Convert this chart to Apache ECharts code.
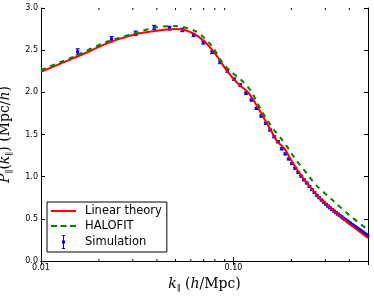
<!DOCTYPE html>
<html>
<head>
<meta charset="utf-8">
<script src="https://cdn.jsdelivr.net/npm/echarts@6/dist/echarts.min.js"></script>
<style>html,body{margin:0;padding:0;background:#fff}#c{width:374px;height:297px}</style>
</head>
<body>
<div id="c"></div>
<script>
// Linear theory curve
const kLin = [0.0100, 0.0120, 0.01465, 0.0180, 0.02198, 0.0270, 0.03258, 0.03901, 0.0450, 0.04946, 0.05578, 0.06288, 0.0709, 0.07993, 0.08487, 0.0931, 0.1049, 0.1182, 0.1254, 0.1332, 0.1443, 0.1561, 0.1690, 0.1837, 0.1991, 0.2198, 0.2476, 0.2790, 0.3258, 0.3990, 0.5000];
const pLin = [2.244, 2.32, 2.403, 2.49, 2.581, 2.65, 2.70, 2.727, 2.745, 2.750, 2.740, 2.690, 2.600, 2.466, 2.38, 2.245, 2.107, 2.007, 1.929, 1.829, 1.69, 1.553, 1.414, 1.336, 1.197, 1.045, 0.89, 0.75, 0.612, 0.445, 0.272];
// HALOFIT curve
const kHalo = [0.0100, 0.01465, 0.02198, 0.03144, 0.03901, 0.04946, 0.06288, 0.0709, 0.07783, 0.08637, 0.09535, 0.10935, 0.1182, 0.1254, 0.1320, 0.1388, 0.1470, 0.1550, 0.1631, 0.1767, 0.1951, 0.2113, 0.2286, 0.2476, 0.2683, 0.3269, 0.3990, 0.5000];
const pHalo = [2.265, 2.42, 2.60, 2.707, 2.77, 2.786, 2.73, 2.64, 2.54, 2.37, 2.26, 2.15, 2.07, 1.988, 1.889, 1.80, 1.70, 1.62, 1.55, 1.454, 1.316, 1.197, 1.10, 1.00, 0.90, 0.722, 0.545, 0.37];
// Simulation points
const kSim = [0.0155, 0.02325, 0.0310, 0.03875, 0.0465, 0.05425, 0.0620, 0.06975, 0.0775, 0.08525, 0.0930, 0.10075, 0.1085, 0.11625, 0.1240, 0.13175, 0.1395, 0.14725, 0.1550, 0.16275, 0.1705, 0.17825, 0.1860, 0.19375, 0.2015, 0.20925, 0.2170, 0.22475, 0.2325, 0.24025, 0.2480, 0.25575, 0.2635, 0.27125, 0.2790, 0.28675, 0.2945, 0.30225, 0.3100, 0.31775, 0.3255, 0.33325, 0.3410, 0.34875, 0.3565, 0.36425, 0.3720, 0.37975, 0.3875, 0.39525, 0.4030, 0.41075, 0.4185, 0.42625, 0.4340, 0.44175, 0.4495, 0.45725, 0.4650, 0.47275, 0.4805, 0.48825, 0.4960];
const pSim = [2.48, 2.63, 2.70, 2.77, 2.76, 2.74, 2.68, 2.59, 2.475, 2.356, 2.253, 2.156, 2.087, 1.99, 1.909, 1.81, 1.719, 1.632, 1.553, 1.473, 1.414, 1.33, 1.27, 1.21, 1.155, 1.10, 1.05, 1.005, 0.962, 0.925, 0.885, 0.847, 0.812, 0.779, 0.750, 0.722, 0.697, 0.673, 0.651, 0.630, 0.610, 0.591, 0.573, 0.556, 0.539, 0.523, 0.507, 0.492, 0.477, 0.463, 0.449, 0.435, 0.422, 0.409, 0.396, 0.384, 0.372, 0.360, 0.348, 0.336, 0.324, 0.312, 0.300];
const eSim = [0.03, 0.025, 0.02, 0.018, 0.016, 0.014, 0.012, 0.011, 0.010, 0.009, 0.009, 0.008, 0.008, 0.007, 0.007, 0.006, 0.006, 0.006, 0.005, 0.005, 0.005, 0.005, 0.005, 0.004, 0.004, 0.004, 0.004, 0.004, 0.004, 0.004, 0.003, 0.003, 0.003, 0.003, 0.003, 0.003, 0.003, 0.003, 0.003, 0.003, 0.003, 0.003, 0.003, 0.003, 0.003, 0.003, 0.003, 0.003, 0.003, 0.003, 0.003, 0.003, 0.003, 0.003, 0.003, 0.003, 0.003, 0.003, 0.003, 0.003, 0.003, 0.003, 0.003];
// Axis ticks
const xMinorTicks = [0.02, 0.03, 0.04, 0.05, 0.06, 0.07, 0.08, 0.09, 0.2, 0.3, 0.4];
const xMajorLabels = {'0.01': '0.01', '0.1': '0.10'};

const chart = echarts.init(document.getElementById('c'), null, {renderer: 'canvas'});
const BLUE = '#0000ff', RED = '#ff0000', GREEN = '#008000';
const serif = 'DejaVu Serif';
const rich = {
  a: {fontFamily: serif, fontStyle: 'italic', fontSize: 14, lineHeight: 18, color: '#000'},
  b: {fontFamily: serif, fontSize: 14, lineHeight: 18, color: '#000'},
  s: {fontFamily: serif, fontSize: 8.5, lineHeight: 9, verticalAlign: 'bottom', color: '#000'}
};
const tickStyle = {inside: true, length: 4, lineStyle: {color: '#000', width: 1}};
const lineStyle = {show: true, lineStyle: {color: '#000', width: 1}};

const option = {
  animation: false,
  backgroundColor: '#fff',
  grid: {left: 41, right: 6, top: 8, bottom: 36, containLabel: false, outerBoundsMode: 'none'},
  xAxis: [{
    type: 'log', logBase: 10, min: 0.01, max: 0.5, position: 'bottom',
    axisLine: lineStyle, axisTick: tickStyle, splitLine: {show: false},
    axisLabel: {margin: 3, fontFamily: 'DejaVu Sans', fontSize: 8, color: '#000',
      formatter: v => { const r = Math.abs(v - 0.01) < 1e-6 ? '0.01' : (Math.abs(v - 0.1) < 1e-6 ? '0.1' : null); return r ? xMajorLabels[r] : ''; }},
    name: '{a|k}{s|∥}{b| (}{a|h}{b|/Mpc)}', nameLocation: 'middle', nameGap: 7,
    nameTextStyle: {rich: rich}
  }, {
    type: 'log', logBase: 10, min: 0.01, max: 0.5, position: 'top',
    axisLine: lineStyle, axisTick: tickStyle, splitLine: {show: false}, axisLabel: {show: false}
  }],
  yAxis: [{
    type: 'value', min: 0, max: 3, interval: 0.5, position: 'left',
    axisLine: lineStyle, axisTick: tickStyle, splitLine: {show: false},
    axisLabel: {margin: 3, fontFamily: 'DejaVu Sans', fontSize: 8, color: '#000', formatter: v => v.toFixed(1)},
    name: '{a|P}{s|∥}{b|(}{a|k}{s|∥}{b|) (Mpc/}{a|h}{b|)}', nameLocation: 'middle', nameGap: 18, nameRotate: 90,
    nameTextStyle: {rich: rich}
  }, {
    type: 'value', min: 0, max: 3, interval: 0.5, position: 'right',
    axisLine: lineStyle, axisTick: tickStyle, splitLine: {show: false}, axisLabel: {show: false}
  }],
  legend: {
    orient: 'vertical', left: 47, top: 202, padding: [3, 5, 3, 4], itemGap: 3,
    itemWidth: 25, itemHeight: 14, borderColor: '#000', borderWidth: 1, borderRadius: 0,
    backgroundColor: '#fff', symbolKeepAspect: true,
    textStyle: {fontFamily: 'DejaVu Sans', fontSize: 11.5, color: '#000', padding: [0, 0, 0, 4]},
    data: [
      {name: 'Linear theory', icon: 'path://M0,0H25V2H0Z', itemStyle: {color: RED}},
      {name: 'HALOFIT', icon: 'path://M0,0H6V2H0Z M9.5,0H15.5V2H9.5Z M19,0H25V2H19Z', itemStyle: {color: GREEN}},
      {name: 'Simulation', icon: 'path://M11,0H14V1H13V5.5H14V8.5H13V13H14V14H11V13H12V8.5H11V5.5H12V1H11Z', itemStyle: {color: BLUE}}
    ]
  },
  series: [
    {
      name: 'Simulation', type: 'custom', z: 2, clip: false,
      itemStyle: {color: BLUE},
      encode: {x: 0, y: 1},
      data: kSim.map((k, i) => [k, pSim[i], eSim[i]]),
      renderItem: (params, api) => {
        const k = api.value(0), v = api.value(1), e = api.value(2);
        const c = api.coord([k, v]), t = api.coord([k, v + e]), b = api.coord([k, v - e]);
        const st = {stroke: BLUE, lineWidth: 1.2};
        return {type: 'group', children: [
          {type: 'line', shape: {x1: c[0], y1: t[1] - 0.5, x2: c[0], y2: b[1] + 0.5}, style: st},
          {type: 'line', shape: {x1: c[0] - 2, y1: t[1] - 0.5, x2: c[0] + 2, y2: t[1] - 0.5}, style: st},
          {type: 'line', shape: {x1: c[0] - 2, y1: b[1] + 0.5, x2: c[0] + 2, y2: b[1] + 0.5}, style: st},
          {type: 'rect', shape: {x: c[0] - 1.5, y: c[1] - 1.5, width: 3, height: 3}, style: {fill: BLUE}}
        ]};
      }
    },
    {
      name: 'Linear theory', type: 'line', z: 3, symbol: 'none', smooth: 0.3,
      lineStyle: {color: RED, width: 2}, itemStyle: {color: RED},
      data: kLin.map((k, i) => [k, pLin[i]])
    },
    {
      name: 'HALOFIT', type: 'line', z: 4, symbol: 'none', smooth: 0.3,
      lineStyle: {color: GREEN, width: 2, type: [5, 5]}, itemStyle: {color: GREEN},
      data: kHalo.map((k, i) => [k, pHalo[i]])
    },
    {
      name: 'minorTicks', type: 'custom', z: 5, silent: true, clip: false,
      encode: {x: 0, y: 1},
      data: xMinorTicks.map(k => [k, 0]),
      renderItem: (params, api) => {
        const k = api.value(0);
        const b = api.coord([k, 0]), t = api.coord([k, 3]);
        const st = {stroke: '#000', lineWidth: 1};
        return {type: 'group', children: [
          {type: 'line', shape: {x1: b[0], y1: b[1], x2: b[0], y2: b[1] - 2}, style: st},
          {type: 'line', shape: {x1: t[0], y1: t[1], x2: t[0], y2: t[1] + 2}, style: st}
        ]};
      }
    }
  ]
};
chart.setOption(option);
</script>
</body>
</html>
